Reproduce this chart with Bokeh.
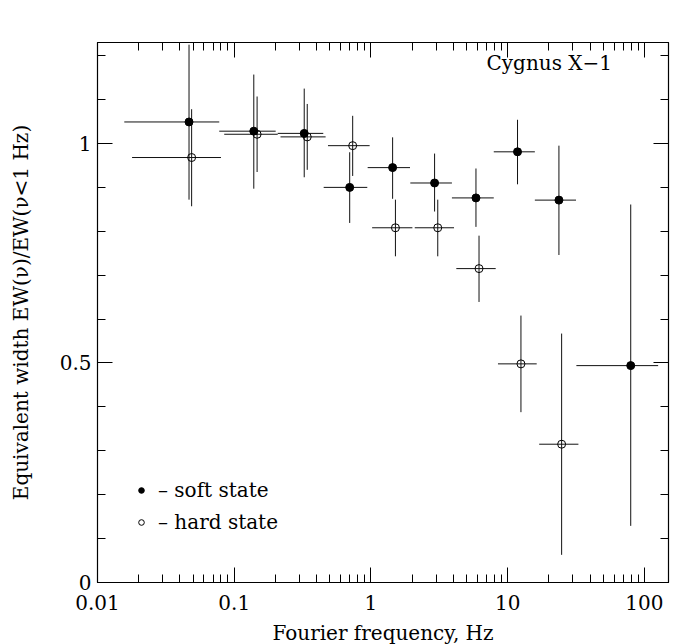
from bokeh.plotting import figure
from bokeh.models import (FixedTicker, SingleIntervalTicker, LinearAxis, LogAxis,
                          Label, Legend, LegendItem, Range1d)
from bokeh.embed import file_html
from bokeh.resources import INLINE

# ---- data ----
soft_f    = [0.0467, 0.139, 0.325, 0.699, 1.44, 2.92, 5.86, 11.8, 23.7, 79.4]
soft_flo  = [0.0157, 0.0777, 0.208, 0.451, 0.946, 1.94, 3.91, 7.91, 15.8, 31.8]
soft_fhi  = [0.0777, 0.201, 0.448, 0.94, 1.93, 3.91, 7.91, 15.8, 31.6, 126.0]
soft_y    = [1.049, 1.028, 1.023, 0.900, 0.945, 0.910, 0.876, 0.981, 0.871, 0.494]
soft_ylo  = [0.872, 0.897, 0.923, 0.819, 0.874, 0.845, 0.810, 0.907, 0.746, 0.129]
soft_yhi  = [1.225, 1.157, 1.125, 0.980, 1.014, 0.977, 0.943, 1.054, 0.995, 0.861]

hard_f    = [0.0488, 0.147, 0.342, 0.735, 1.51, 3.08, 6.17, 12.5, 24.8]
hard_flo  = [0.0179, 0.0845, 0.218, 0.485, 1.02, 2.09, 4.21, 8.49, 17.0]
hard_fhi  = [0.080, 0.208, 0.466, 0.978, 2.01, 4.05, 8.17, 16.3, 32.9]
hard_y    = [0.968, 1.021, 1.015, 0.995, 0.808, 0.808, 0.715, 0.498, 0.315]
hard_ylo  = [0.857, 0.935, 0.940, 0.926, 0.743, 0.743, 0.639, 0.388, 0.063]
hard_yhi  = [1.078, 1.107, 1.090, 1.063, 0.872, 0.872, 0.790, 0.608, 0.567]

x_major = [0.01, 0.1, 1, 10, 100]
x_major_labels = ["0.01", "0.1", "1", "10", "100"]
y_major = [0, 0.5, 1]
y_major_labels = ["0", "0.5", "1"]

FONT = "DejaVu Serif"
FS = "20px"

x_minor = [m * d for d in x_major for m in range(2, 10)]

p = figure(x_axis_type="log", x_range=Range1d(0.01, 150), y_range=Range1d(0, 1.23),
           frame_width=571, frame_height=540,
           min_border_left=97, min_border_right=4, min_border_top=42, min_border_bottom=62,
           output_backend="svg", toolbar_location=None,
           background_fill_color="white", border_fill_color="white")
p.grid.visible = False
p.outline_line_color = "black"
p.outline_line_width = 1.2

def style_axis(ax, show_labels):
    ax.major_tick_in = 15
    ax.major_tick_out = 0
    ax.minor_tick_in = 8
    ax.minor_tick_out = 0
    ax.axis_line_color = "black"
    ax.major_tick_line_color = "black"
    ax.minor_tick_line_color = "black"
    ax.major_label_text_font = FONT
    ax.major_label_text_font_size = FS
    ax.major_label_text_color = "black"
    ax.axis_label_text_font = FONT
    ax.axis_label_text_font_size = FS
    ax.axis_label_text_font_style = "normal"
    ax.axis_label_text_color = "black"
    if not show_labels:
        ax.major_label_text_font_size = "0px"
        ax.major_label_text_alpha = 0

xt = FixedTicker(ticks=x_major, minor_ticks=x_minor)
yt = SingleIntervalTicker(interval=0.5, num_minor_ticks=5)

xa = p.xaxis[0]
xa.ticker = xt
xa.major_label_overrides = {v: s for v, s in zip(x_major, x_major_labels)}
xa.axis_label = "Fourier frequency, Hz"
style_axis(xa, True)
xa.major_label_standoff = 12
xa.axis_label_standoff = 8

ya = p.yaxis[0]
ya.ticker = yt
ya.major_label_overrides = {v: s for v, s in zip(y_major, y_major_labels)}
ya.axis_label = "Equivalent width EW(\u03bd)/EW(\u03bd<1 Hz)"
style_axis(ya, True)
ya.major_label_standoff = 6
ya.axis_label_standoff = 24

top = LogAxis(ticker=xt)
style_axis(top, False)
p.add_layout(top, "above")
right = LinearAxis(ticker=yt)
style_axis(right, False)
p.add_layout(right, "right")

# ---- error bars ----
LC = "#111111"
p.segment(x0=soft_flo, x1=soft_fhi, y0=soft_y, y1=soft_y, line_color=LC, line_width=1)
p.segment(x0=soft_f, x1=soft_f, y0=soft_ylo, y1=soft_yhi, line_color=LC, line_width=1)
p.segment(x0=hard_flo, x1=hard_fhi, y0=hard_y, y1=hard_y, line_color=LC, line_width=1)
p.segment(x0=hard_f, x1=hard_f, y0=hard_ylo, y1=hard_yhi, line_color=LC, line_width=1)

r_hard = p.scatter(hard_f, hard_y, marker="circle", size=8, fill_color=None,
                   line_color="black", line_width=1)
r_soft = p.scatter(soft_f, soft_y, marker="circle", size=8, fill_color="black",
                   line_color="black")

legend = Legend(items=[LegendItem(label="\u2013 soft state", renderers=[r_soft]),
                       LegendItem(label="\u2013 hard state", renderers=[r_hard])],
                location=(37, 48), background_fill_alpha=0, border_line_alpha=0,
                label_text_font=FONT, label_text_font_size=FS, label_text_color="black",
                glyph_width=14, glyph_height=20, label_height=20, spacing=8,
                label_standoff=10, padding=0, margin=0)
p.add_layout(legend)

p.add_layout(Label(x=389, y=520, x_units="screen", y_units="screen", text="Cygnus X\u22121",
                   text_font=FONT, text_font_size=FS, text_color="black",
                   text_baseline="middle", text_align="left"))

open("out.html", "w").write(file_html(p, INLINE))
